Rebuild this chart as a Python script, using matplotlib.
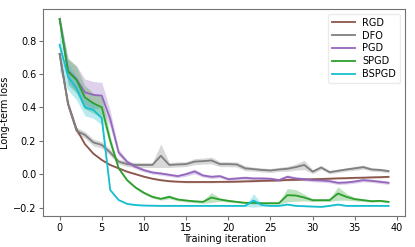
import numpy as np
import matplotlib
matplotlib.use('Agg')
from matplotlib import pyplot as plt

iters = np.arange(40)

rgd = [0.72, 0.42, 0.27, 0.18, 0.123, 0.085, 0.055, 0.035, 0.015, 0.0,
       -0.015, -0.027, -0.036, -0.042, -0.045, -0.047, -0.047, -0.047, -0.047, -0.046,
       -0.046, -0.045, -0.043, -0.042, -0.040, -0.039, -0.037, -0.035, -0.034, -0.032,
       -0.030, -0.029, -0.027, -0.025, -0.024, -0.022, -0.021, -0.019, -0.018, -0.016]
rgd_sd = [0.01] * 3 + [0.005] * 37

dfo = [0.72, 0.42, 0.26, 0.235, 0.19, 0.175, 0.13, 0.075, 0.06, 0.055,
       0.055, 0.055, 0.11, 0.055, 0.058, 0.06, 0.075, 0.078, 0.082, 0.06,
       0.06, 0.058, 0.035, 0.03, 0.025, 0.022, 0.028, 0.032, 0.042, 0.055,
       0.015, 0.04, 0.012, 0.02, 0.028, 0.035, 0.042, 0.028, 0.025, 0.018]
dfo_sd = [0.02, 0.03, 0.02, 0.02, 0.02, 0.02, 0.02, 0.015, 0.015, 0.015,
          0.015, 0.015, 0.07, 0.015, 0.015, 0.015, 0.018, 0.018, 0.02, 0.015,
          0.015, 0.015, 0.015, 0.012, 0.012, 0.012, 0.012, 0.015, 0.018, 0.028,
          0.012, 0.012, 0.01, 0.01, 0.01, 0.012, 0.012, 0.01, 0.01, 0.01]

pgd = [0.93, 0.62, 0.57, 0.49, 0.475, 0.47, 0.33, 0.13, 0.074, 0.044,
       0.024, 0.01, 0.004, -0.004, -0.012, 0.0, 0.016, -0.008, -0.016, -0.012,
       -0.03, -0.026, -0.022, -0.026, -0.026, -0.028, -0.036, -0.016, -0.026, -0.03,
       -0.036, -0.038, -0.042, -0.052, -0.05, -0.044, -0.036, -0.04, -0.046, -0.052]
pgd_sd = [0.03, 0.07, 0.08, 0.08, 0.08, 0.08, 0.05, 0.02, 0.012, 0.012,
          0.01, 0.01, 0.01, 0.01, 0.01, 0.012, 0.015, 0.01, 0.01, 0.01,
          0.01, 0.01, 0.01, 0.01, 0.01, 0.01, 0.01, 0.012, 0.01, 0.01,
          0.01, 0.01, 0.01, 0.01, 0.01, 0.01, 0.01, 0.01, 0.01, 0.01]

spgd = [0.93, 0.614, 0.565, 0.46, 0.425, 0.40, 0.20, 0.035, -0.036, -0.08,
        -0.112, -0.136, -0.148, -0.136, -0.152, -0.158, -0.163, -0.166, -0.14, -0.152,
        -0.16, -0.166, -0.172, -0.172, -0.174, -0.174, -0.174, -0.126, -0.128, -0.14,
        -0.156, -0.156, -0.156, -0.116, -0.136, -0.15, -0.156, -0.162, -0.16, -0.166]
spgd_sd = [0.02, 0.08, 0.08, 0.07, 0.06, 0.06, 0.03, 0.01, 0.008, 0.008,
           0.008, 0.008, 0.008, 0.012, 0.008, 0.008, 0.008, 0.008, 0.03, 0.01,
           0.008, 0.006, 0.006, 0.006, 0.006, 0.006, 0.006, 0.04, 0.035, 0.02,
           0.008, 0.008, 0.008, 0.04, 0.02, 0.01, 0.008, 0.006, 0.006, 0.006]

bspgd = [0.775, 0.584, 0.515, 0.40, 0.385, 0.335, -0.095, -0.155, -0.178, -0.185,
         -0.188, -0.189, -0.19, -0.19, -0.19, -0.19, -0.19, -0.19, -0.19, -0.19,
         -0.19, -0.19, -0.19, -0.158, -0.186, -0.19, -0.19, -0.182, -0.19, -0.192,
         -0.194, -0.196, -0.19, -0.182, -0.19, -0.19, -0.19, -0.19, -0.19, -0.19]
bspgd_sd = [0.16, 0.08, 0.07, 0.05, 0.05, 0.04, 0.005, 0.004, 0.003, 0.003,
            0.003, 0.003, 0.003, 0.003, 0.003, 0.003, 0.003, 0.003, 0.003, 0.003,
            0.003, 0.003, 0.003, 0.04, 0.005, 0.003, 0.003, 0.005, 0.003, 0.003,
            0.003, 0.003, 0.003, 0.005, 0.003, 0.003, 0.003, 0.003, 0.003, 0.003]

series = [('RGD', rgd, rgd_sd, 'tab:brown'),
          ('DFO', dfo, dfo_sd, 'tab:gray'),
          ('PGD', pgd, pgd_sd, 'tab:purple'),
          ('SPGD', spgd, spgd_sd, 'tab:green'),
          ('BSPGD', bspgd, bspgd_sd, 'tab:cyan')]

if __name__ == '__main__':
    plt.rcParams['font.size'] = 7
    fig, ax = plt.subplots(figsize=(4.15, 2.47), dpi=100)
    fig.subplots_adjust(left=0.104, right=0.976, top=0.964, bottom=0.126)
    for name, m, s, c in series:
        m = np.array(m)
        s = np.array(s)
        ax.plot(iters, m, color=c, lw=1.3, label=name)
        ax.fill_between(iters, m - s, m + s, color=c, alpha=0.3, lw=0)
    ax.set_xlabel('Training iteration', labelpad=1)
    ax.set_ylabel('Long-term loss', labelpad=2)
    ax.set_xlim(-1.95, 40.95)
    ax.set_ylim(-0.25, 0.99)
    ax.set_xticks([0, 5, 10, 15, 20, 25, 30, 35, 40])
    ax.set_yticks([-0.2, 0.0, 0.2, 0.4, 0.6, 0.8])
    for sp in ax.spines.values():
        sp.set_color('0.45')
    ax.tick_params(color='0.45', length=3, pad=2)
    ax.legend(loc='upper right', fontsize=7, handlelength=2.3,
              labelspacing=0.3, framealpha=0.8, edgecolor='0.9')
    fig.savefig('out.png')
